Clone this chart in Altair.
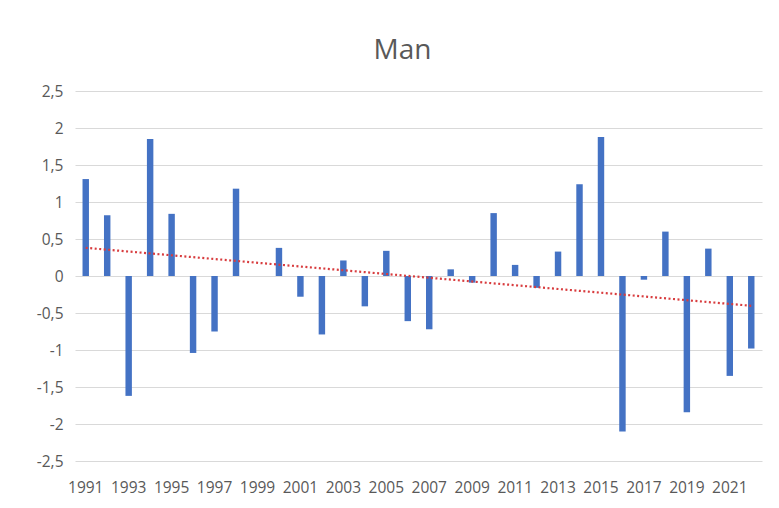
import altair as alt
import pandas as pd

# ---- data ----
years = list(range(1991, 2023))
values = [1.31, 0.82, -1.62, 1.85, 0.84, -1.04, -0.75, 1.18, 0.0, 0.38,
          -0.28, -0.79, 0.21, -0.41, 0.34, -0.61, -0.72, 0.09, -0.09, 0.85,
          0.15, -0.16, 0.33, 1.24, 1.88, -2.10, -0.05, 0.60, -1.84, 0.37,
          -1.35, -0.98]
title_text = "Man"
y_ticks = [-2.5, -2, -1.5, -1, -0.5, 0, 0.5, 1, 1.5, 2, 2.5]
x_label_years = list(range(1991, 2022, 2))

df = pd.DataFrame({"year": years, "value": values})

FONT = "Open Sans"
GREY = "#595959"

x_enc = alt.X(
    "year:O",
    title=None,
    scale=alt.Scale(paddingInner=0.7, paddingOuter=0.35),
    axis=alt.Axis(
        values=x_label_years,
        labelAngle=0,
        ticks=False,
        tickSize=0,
        domain=False,
        grid=False,
        labelPadding=19,
        labelFontSize=15.5,
        labelFont=FONT,
        labelColor=GREY,
        labelOverlap=False,
    ),
)
y_enc = alt.Y(
    "value:Q",
    title=None,
    scale=alt.Scale(domain=[-2.5, 2.5], nice=False, zero=False),
    axis=alt.Axis(
        values=y_ticks,
        tickCount=len(y_ticks) + 2,
        labelExpr="replace('' + datum.value, '.', ',')",
        ticks=False,
        tickSize=0,
        domain=False,
        grid=True,
        gridColor="#D9D9D9",
        gridWidth=1,
        labelPadding=12,
        labelFontSize=15.5,
        labelFont=FONT,
        labelColor=GREY,
        labelOverlap=False,
    ),
)

bars = alt.Chart(df).mark_bar(color="#4472C4").encode(x=x_enc, y=y_enc)

trend = (
    alt.Chart(df)
    .transform_regression("year", "value")
    .mark_line(color="#D83C3E", strokeDash=[2, 2.5], strokeWidth=2.2)
    .encode(x=alt.X("year:O"), y=alt.Y("value:Q"))
)

chart = (
    alt.layer(bars, trend)
    .properties(
        width=687,
        height=370,
        autosize=alt.AutoSizeParams(type="none"),
        padding={"left": 67, "top": 83, "right": 5, "bottom": 36},
        title=alt.Title(
            title_text,
            fontSize=28,
            font=FONT,
            fontWeight="normal",
            color=GREY,
            anchor="middle",
            baseline="alphabetic",
            offset=0,
            dy=3,
            dx=-16,
        ),
        background="white",
    )
    .configure_view(strokeWidth=0)
)

chart.save("out.html", embed_options={"renderer": "svg", "actions": False})
